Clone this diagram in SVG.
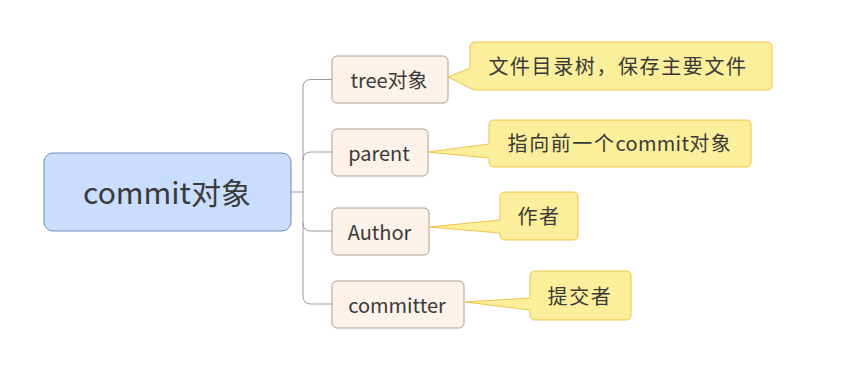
<svg xmlns="http://www.w3.org/2000/svg" width="845" height="388" viewBox="0 0 845 388">
<style>
.t{font-family:"Noto Sans CJK SC","Open Sans",sans-serif;fill:#3a3a3a;text-anchor:middle;dominant-baseline:central}
.c{font-size:20px}
.n{font-size:20px;letter-spacing:1.6px}
.l{letter-spacing:0.3px}
.root{fill:#c9ddfd;stroke:#6e88b5;stroke-width:1}
.child{fill:#fdf2ea;stroke:#aa9f98;stroke-width:1}
.note{fill:#fbef9b;stroke:#f0c34a;stroke-width:1}
.conn{fill:none;stroke:#9a9a9a;stroke-width:1}
</style>
<rect width="845" height="388" fill="#ffffff"/>
<g id="connectors">
<path class="conn" d="M291 192 H303"/>
<path class="conn" d="M332 79.5 H311 Q303 79.5 303 87.5 V296 Q303 304 311 304 H332"/>
<path class="conn" d="M303 160 Q303 152 311 152 H332"/>
<path class="conn" d="M303 223 Q303 231 311 231 H332"/>
</g>
<g id="root">
<rect class="root" x="44" y="153" width="247" height="78" rx="9"/>
<text class="t" x="167" y="191" font-size="30">commit对象</text>
</g>
<g id="tree">
<rect class="child" x="332" y="56" width="116" height="47" rx="5"/>
<text class="t c" x="389" y="79">tree对象</text>
</g>
<g id="parent">
<rect class="child" x="332" y="129" width="96" height="47" rx="5"/>
<text class="t c" x="379" y="152">parent</text>
</g>
<g id="author">
<rect class="child" x="332" y="208" width="97" height="47" rx="5"/>
<text class="t c" x="379.5" y="231">Author</text>
</g>
<g id="committer">
<rect class="child" x="332" y="281" width="132" height="47" rx="5"/>
<text class="t c" x="397" y="304">committer</text>
</g>
<g id="note-tree">
<path class="note" d="M476 42 H767 Q772 42 772 47 V85 Q772 90 767 90 H474 L448 77 L470 68 V47 Q470 42 476 42 Z"/>
<text class="t n" x="618" y="65">文件目录树，保存主要文件</text>
</g>
<g id="note-parent">
<path class="note" d="M495 120 H746 Q751 120 751 125 V162 Q751 167 746 167 H495 Q489 167 489 162 V158 L428 152 L489 144 V125 Q489 120 495 120 Z"/>
<text class="t n" x="620" y="142">指向前一个<tspan class="l">commit</tspan>对象</text>
</g>
<g id="note-author">
<path class="note" d="M506 192 H573 Q578 192 578 197 V235 Q578 240 573 240 H506 Q500 240 500 235 V233 L429 227 L500 220 V197 Q500 192 506 192 Z"/>
<text class="t n" x="539" y="215">作者</text>
</g>
<g id="note-committer">
<path class="note" d="M536 271 H626 Q631 271 631 276 V315 Q631 320 626 320 H536 Q530 320 530 315 V310 L465 302 L530 298 V276 Q530 271 536 271 Z"/>
<text class="t n" x="580" y="295">提交者</text>
</g>
</svg>
